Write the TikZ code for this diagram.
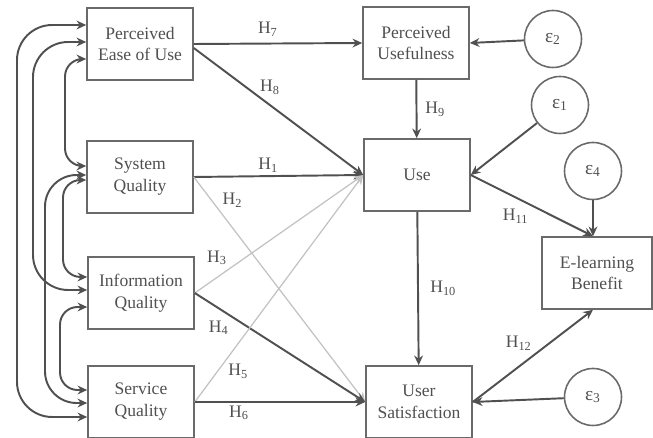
\documentclass[tikz,border=0pt]{standalone}
\usepackage{fontspec}
\setmainfont{Liberation Serif}
\usetikzlibrary{positioning,calc,arrows.meta}
\definecolor{ink}{HTML}{505050}
\definecolor{pale}{HTML}{C2C2C2}
\definecolor{frame}{HTML}{6A6A6A}

\begin{document}
\begin{tikzpicture}[x=0.02cm,y=-0.02cm,
  font=\fontsize{10}{12.5}\selectfont,text=ink,
  >={Stealth[length=5.5pt,width=5pt]},
  box/.style={draw=frame,line width=0.9pt,minimum width=2.12cm,minimum height=1.44cm,align=center,inner sep=1pt},
  err/.style={draw=frame,line width=0.9pt,circle,minimum size=1.14cm,inner sep=0pt,font=\fontsize{11}{12}\selectfont},
  link/.style={ink,line width=1.1pt,->},
  weak/.style={pale,line width=0.7pt,->},
  cov/.style={ink,line width=1.1pt,<->},
  hyp/.style={inner sep=1.5pt,text=ink}]
  \useasboundingbox (0,0) rectangle (653,438);

  % constructs
  \node[box] (peou) at (140,44) {Perceived\\Ease of Use};
  \node[box] (sysq) at (140,177) {System\\Quality};
  \node[box] (infq) at (141,293) {Information\\Quality};
  \node[box] (servq) at (141,402) {Service\\Quality};
  \node[box] (pu) at (416,43) {Perceived\\Usefulness};
  \node[box] (use) at (417,175) {Use};
  \node[box] (us) at (419,402) {User\\Satisfaction};
  \node[box,minimum width=2.2cm] (elb) at (597,273) {E-learning\\Benefit};

  % error terms
  \node[err] (e2) at (553,39) {ε\textsubscript{2}};
  \node[err] (e1) at (560,105) {ε\textsubscript{1}};
  \node[err] (e4) at (593,171) {ε\textsubscript{4}};
  \node[err] (e3) at (593,397) {ε\textsubscript{3}};
  \coordinate (elbtop) at (e4 |- elb.north);
  \coordinate (elbbot) at (e4 |- elb.south);

  % paths
  \draw[link] (peou.east) -- (pu.west) node[hyp,pos=0.44,above=2pt] {H\textsubscript{7}};
  \draw[link] ($(peou.east)+(0,4)$) -- (use.west) node[hyp,pos=0.45,above=4pt] {H\textsubscript{8}};
  \draw[link] (pu) -- (use) node[hyp,midway,right=3pt] {H\textsubscript{9}};
  \draw[link] (sysq.east) -- (use.west) node[hyp,pos=0.44,above] {H\textsubscript{1}};
  \draw[weak] (sysq.east) -- (us.west) node[hyp,pos=0.15,above right] {H\textsubscript{2}};
  \draw[weak] (infq.east) -- (use.west) node[hyp,pos=0.21,above left] {H\textsubscript{3}};
  \draw[link] (infq.east) -- (us.west) node[hyp,pos=0.22,below left] {H\textsubscript{4}};
  \draw[weak] (servq.east) -- (use.west) node[hyp,pos=0.18,below right] {H\textsubscript{5}};
  \draw[link] (servq.east) -- (us.west) node[hyp,pos=0.26,below] {H\textsubscript{6}};
  \draw[link] (use) -- (us) node[hyp,midway,right=5pt] {H\textsubscript{10}};
  \draw[link] (use.east) -- (elbtop) node[hyp,pos=0.5,below left] {H\textsubscript{11}};
  \draw[link] (us.east) -- (elbbot) node[hyp,pos=0.52,above left] {H\textsubscript{12}};

  \draw[link] (e2) -- (pu.east);
  \draw[link] (e1) -- (use.east);
  \draw[link] (e4) -- (elbtop);
  \draw[link] (e3) -- (us.east);

  % correlations
  \draw[cov,rounded corners=20pt] ($(peou.west)+(0,-19)$) -| (17,220) |- ($(servq.west)+(0,15)$);
  \draw[cov,rounded corners=20pt] ($(peou.west)+(0,-2)$) -| (33,160) |- ($(infq.west)+(0,-3)$);
  \draw[cov,rounded corners=10pt] ($(peou.west)+(0,15)$) -| (65,110) |- ($(sysq.west)+(0,-11)$);
  \draw[cov,rounded corners=18pt] ($(sysq.west)+(0,-2)$) -| (45,290) |- ($(servq.west)+(0,1)$);
  \draw[cov,rounded corners=10pt] ($(sysq.west)+(0,3)$) -| (63,230) |- ($(infq.west)+(0,-16)$);
  \draw[cov,rounded corners=10pt] ($(infq.west)+(0,14)$) -| (60,350) |- ($(servq.west)+(0,-12)$);
\end{tikzpicture}
\end{document}
